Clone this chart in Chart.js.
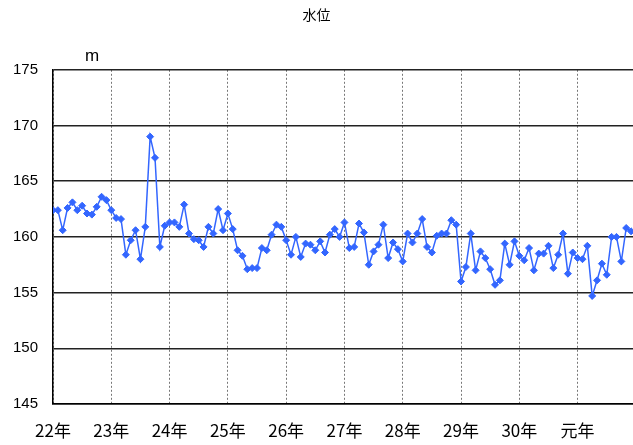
<!DOCTYPE html>
<html>
<head>
<meta charset="utf-8">
<script src="https://cdn.jsdelivr.net/npm/chart.js@4.4.1/dist/chart.umd.min.js"></script>
<style>
  html, body { margin: 0; padding: 0; background: #fff; }
  #wrap { width: 633px; height: 445px; }
</style>
</head>
<body>
<div id="wrap"><canvas id="myChart" width="633" height="445"></canvas></div>
<script>
// year labels, one every 12 months
var yearLabels = ["22年", "23年", "24年", "25年", "26年", "27年", "28年", "29年", "30年", "元年"];

// monthly water level (m)
var waterLevel = [
  162.4, 162.4, 160.6, 162.6, 163.1, 162.4, 162.8, 162.1, 162.0, 162.7, 163.6, 163.3,
  162.4, 161.7, 161.6, 158.4, 159.7, 160.6, 158.0, 160.9, 169.0, 167.1, 159.1, 161.0,
  161.3, 161.3, 160.9, 162.9, 160.3, 159.8, 159.7, 159.1, 160.9, 160.3, 162.5, 160.6,
  162.1, 160.7, 158.8, 158.3, 157.1, 157.2, 157.2, 159.0, 158.8, 160.2, 161.1, 160.9,
  159.7, 158.4, 160.0, 158.2, 159.4, 159.3, 158.8, 159.6, 158.6, 160.2, 160.7, 160.0,
  161.3, 159.0, 159.1, 161.2, 160.4, 157.5, 158.7, 159.3, 161.1, 158.1, 159.5, 158.9,
  157.8, 160.3, 159.5, 160.3, 161.6, 159.1, 158.6, 160.1, 160.3, 160.3, 161.5, 161.1,
  156.0, 157.3, 160.3, 157.0, 158.7, 158.1, 157.1, 155.7, 156.1, 159.4, 157.5, 159.6,
  158.3, 157.9, 159.0, 157.0, 158.5, 158.5, 159.2, 157.2, 158.4, 160.3, 156.7, 158.6,
  158.1, 158.0, 159.2, 154.7, 156.1, 157.6, 156.6, 160.0, 160.0, 157.8, 160.8, 160.5
];

var yMin = 145;
var yMax = 175;
var yStep = 5;

var points = [];
for (var i = 0; i < waterLevel.length; i++) {
  points.push({ x: i, y: waterLevel[i] });
}

var fontFamily = "'Liberation Sans', 'Noto Sans CJK JP', sans-serif";
var blue = 'rgb(51,102,255)';

// "m" unit label above the y axis
var unitLabel = {
  id: 'unitLabel',
  afterDraw: function(chart) {
    var ctx = chart.ctx;
    ctx.save();
    ctx.font = '17px ' + fontFamily;
    ctx.fillStyle = '#000';
    ctx.textAlign = 'center';
    ctx.textBaseline = 'middle';
    ctx.fillText('m', chart.chartArea.left + 39, chart.chartArea.top - 13);
    ctx.restore();
  }
};

var ctx = document.getElementById('myChart').getContext('2d');
var chart = new Chart(ctx, {
  type: 'line',
  data: {
    datasets: [
      {
        label: '水位',
        data: points,
        borderColor: blue,
        backgroundColor: blue,
        borderWidth: 1.5,
        pointStyle: 'rectRot',
        pointRadius: 3.5,
        pointBorderWidth: 1,
        tension: 0
      }
    ]
  },
  options: {
    responsive: false,
    animation: false,
    layout: { autoPadding: false, padding: 0 },
    plugins: {
      legend: { display: false },
      tooltip: { enabled: false },
      title: {
        display: true,
        text: '水位',
        color: '#000',
        font: { family: fontFamily, size: 14, weight: 'normal' },
        padding: { top: 8, bottom: 45 }
      }
    },
    scales: {
      x: {
        type: 'linear',
        min: 0,
        max: 119.4,
        afterBuildTicks: function(scale) {
          var t = [];
          for (var k = 0; k < yearLabels.length; k++) t.push({ value: k * 12 });
          scale.ticks = t;
        },
        afterFit: function(scale) { scale.height = 41; },
        ticks: {
          autoSkip: false,
          maxRotation: 0,
          padding: 16,
          color: '#000',
          font: { family: "'Noto Sans CJK JP', sans-serif", size: 17 },
          callback: function(value) { return yearLabels[Math.round(value / 12)]; }
        },
        grid: { color: '#777', lineWidth: 1, drawTicks: false },
        border: { color: '#000', width: 1.5, dash: [2, 2] }
      },
      y: {
        min: yMin,
        max: yMax,
        afterFit: function(scale) { scale.width = 53; },
        ticks: {
          stepSize: yStep,
          padding: 15,
          color: '#000',
          font: { family: fontFamily, size: 15 }
        },
        grid: { color: '#222', lineWidth: 1.5, drawTicks: false },
        border: { color: '#000', width: 1.5 }
      }
    }
  },
  plugins: [unitLabel]
});
</script>
</body>
</html>
